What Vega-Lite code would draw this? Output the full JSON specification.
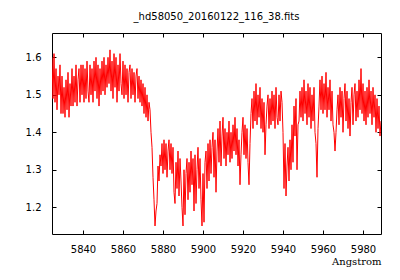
{
  "$schema": "https://vega.github.io/schema/vega-lite/v6.json",
  "autosize": {"type": "none"},
  "width": 329,
  "height": 201,
  "padding": {"left": 52, "top": 33, "right": 19, "bottom": 46},
  "background": "white",
  "title": {"text": "_hd58050_20160122_116_38.fits", "font": "DejaVu Sans", "fontSize": 10, "fontWeight": "normal", "color": "black", "anchor": "middle", "baseline": "alphabetic", "offset": 3},
  "config": {"view": {"stroke": "black", "strokeWidth": 1}},
  "data": {"values": [
{"wl":5824.5,"flux":1.60},{"wl":5825.0,"flux":1.49},{"wl":5825.5,"flux":1.61},{"wl":5826.0,"flux":1.48},{"wl":5826.5,"flux":1.57},{"wl":5827.0,"flux":1.46},{"wl":5827.5,"flux":1.55},{"wl":5828.0,"flux":1.50},{"wl":5828.5,"flux":1.58},{"wl":5829.0,"flux":1.45},
{"wl":5829.5,"flux":1.55},{"wl":5830.0,"flux":1.45},{"wl":5830.5,"flux":1.52},{"wl":5831.0,"flux":1.44},{"wl":5831.5,"flux":1.54},{"wl":5832.0,"flux":1.46},{"wl":5832.5,"flux":1.56},{"wl":5833.0,"flux":1.44},{"wl":5833.5,"flux":1.53},{"wl":5834.0,"flux":1.47},
{"wl":5834.5,"flux":1.57},{"wl":5835.0,"flux":1.47},{"wl":5835.5,"flux":1.55},{"wl":5836.0,"flux":1.48},{"wl":5836.5,"flux":1.58},{"wl":5837.0,"flux":1.47},{"wl":5837.5,"flux":1.54},{"wl":5838.0,"flux":1.57},{"wl":5838.5,"flux":1.48},{"wl":5839.0,"flux":1.58},
{"wl":5839.5,"flux":1.50},{"wl":5840.0,"flux":1.58},{"wl":5840.5,"flux":1.48},{"wl":5841.0,"flux":1.57},{"wl":5841.5,"flux":1.49},{"wl":5842.0,"flux":1.59},{"wl":5842.5,"flux":1.51},{"wl":5843.0,"flux":1.48},{"wl":5843.5,"flux":1.58},{"wl":5844.0,"flux":1.50},
{"wl":5844.5,"flux":1.57},{"wl":5845.0,"flux":1.48},{"wl":5845.5,"flux":1.59},{"wl":5846.0,"flux":1.51},{"wl":5846.5,"flux":1.60},{"wl":5847.0,"flux":1.49},{"wl":5847.5,"flux":1.58},{"wl":5848.0,"flux":1.47},{"wl":5848.5,"flux":1.57},{"wl":5849.0,"flux":1.50},
{"wl":5849.5,"flux":1.59},{"wl":5850.0,"flux":1.51},{"wl":5850.5,"flux":1.60},{"wl":5851.0,"flux":1.50},{"wl":5851.5,"flux":1.58},{"wl":5852.0,"flux":1.52},{"wl":5852.5,"flux":1.60},{"wl":5853.0,"flux":1.53},{"wl":5853.5,"flux":1.62},{"wl":5854.0,"flux":1.51},
{"wl":5854.5,"flux":1.59},{"wl":5855.0,"flux":1.49},{"wl":5855.5,"flux":1.61},{"wl":5856.0,"flux":1.52},{"wl":5856.5,"flux":1.60},{"wl":5857.0,"flux":1.48},{"wl":5857.5,"flux":1.58},{"wl":5858.0,"flux":1.51},{"wl":5858.5,"flux":1.61},{"wl":5859.0,"flux":1.53},
{"wl":5859.5,"flux":1.50},{"wl":5860.0,"flux":1.59},{"wl":5860.5,"flux":1.49},{"wl":5861.0,"flux":1.58},{"wl":5861.5,"flux":1.50},{"wl":5862.0,"flux":1.57},{"wl":5862.5,"flux":1.48},{"wl":5863.0,"flux":1.56},{"wl":5863.5,"flux":1.58},{"wl":5864.0,"flux":1.49},
{"wl":5864.5,"flux":1.57},{"wl":5865.0,"flux":1.50},{"wl":5865.5,"flux":1.56},{"wl":5866.0,"flux":1.48},{"wl":5866.5,"flux":1.55},{"wl":5867.0,"flux":1.57},{"wl":5867.5,"flux":1.49},{"wl":5868.0,"flux":1.55},{"wl":5868.5,"flux":1.48},{"wl":5869.0,"flux":1.54},
{"wl":5869.5,"flux":1.47},{"wl":5870.0,"flux":1.53},{"wl":5870.5,"flux":1.45},{"wl":5871.0,"flux":1.52},{"wl":5871.5,"flux":1.44},{"wl":5872.0,"flux":1.50},{"wl":5872.5,"flux":1.43},{"wl":5873.0,"flux":1.48},{"wl":5873.5,"flux":1.46},{"wl":5874.0,"flux":1.40},
{"wl":5874.5,"flux":1.36},{"wl":5875.0,"flux":1.28},{"wl":5875.5,"flux":1.22},{"wl":5876.0,"flux":1.15},{"wl":5876.5,"flux":1.19},{"wl":5877.0,"flux":1.21},{"wl":5877.5,"flux":1.31},{"wl":5878.0,"flux":1.27},{"wl":5878.5,"flux":1.34},{"wl":5879.0,"flux":1.31},
{"wl":5879.5,"flux":1.37},{"wl":5880.0,"flux":1.29},{"wl":5880.5,"flux":1.38},{"wl":5881.0,"flux":1.30},{"wl":5881.5,"flux":1.37},{"wl":5882.0,"flux":1.28},{"wl":5882.5,"flux":1.35},{"wl":5883.0,"flux":1.38},{"wl":5883.5,"flux":1.30},{"wl":5884.0,"flux":1.37},
{"wl":5884.5,"flux":1.29},{"wl":5885.0,"flux":1.36},{"wl":5885.5,"flux":1.24},{"wl":5886.0,"flux":1.21},{"wl":5886.5,"flux":1.32},{"wl":5887.0,"flux":1.25},{"wl":5887.5,"flux":1.35},{"wl":5888.0,"flux":1.23},{"wl":5888.5,"flux":1.33},{"wl":5889.0,"flux":1.27},
{"wl":5889.5,"flux":1.20},{"wl":5890.0,"flux":1.15},{"wl":5890.5,"flux":1.30},{"wl":5891.0,"flux":1.18},{"wl":5891.5,"flux":1.29},{"wl":5892.0,"flux":1.33},{"wl":5892.5,"flux":1.22},{"wl":5893.0,"flux":1.32},{"wl":5893.5,"flux":1.24},{"wl":5894.0,"flux":1.35},
{"wl":5894.5,"flux":1.26},{"wl":5895.0,"flux":1.33},{"wl":5895.5,"flux":1.19},{"wl":5896.0,"flux":1.34},{"wl":5896.5,"flux":1.21},{"wl":5897.0,"flux":1.30},{"wl":5897.5,"flux":1.36},{"wl":5898.0,"flux":1.25},{"wl":5898.5,"flux":1.33},{"wl":5899.0,"flux":1.22},
{"wl":5899.5,"flux":1.15},{"wl":5900.0,"flux":1.29},{"wl":5900.5,"flux":1.16},{"wl":5901.0,"flux":1.32},{"wl":5901.5,"flux":1.35},{"wl":5902.0,"flux":1.25},{"wl":5902.5,"flux":1.37},{"wl":5903.0,"flux":1.27},{"wl":5903.5,"flux":1.38},{"wl":5904.0,"flux":1.29},
{"wl":5904.5,"flux":1.36},{"wl":5905.0,"flux":1.40},{"wl":5905.5,"flux":1.28},{"wl":5906.0,"flux":1.38},{"wl":5906.5,"flux":1.24},{"wl":5907.0,"flux":1.35},{"wl":5907.5,"flux":1.41},{"wl":5908.0,"flux":1.32},{"wl":5908.5,"flux":1.43},{"wl":5909.0,"flux":1.31},
{"wl":5909.5,"flux":1.39},{"wl":5910.0,"flux":1.44},{"wl":5910.5,"flux":1.33},{"wl":5911.0,"flux":1.41},{"wl":5911.5,"flux":1.31},{"wl":5912.0,"flux":1.40},{"wl":5912.5,"flux":1.34},{"wl":5913.0,"flux":1.43},{"wl":5913.5,"flux":1.32},{"wl":5914.0,"flux":1.40},
{"wl":5914.5,"flux":1.33},{"wl":5915.0,"flux":1.42},{"wl":5915.5,"flux":1.35},{"wl":5916.0,"flux":1.44},{"wl":5916.5,"flux":1.34},{"wl":5917.0,"flux":1.41},{"wl":5917.5,"flux":1.31},{"wl":5918.0,"flux":1.38},{"wl":5918.5,"flux":1.26},{"wl":5919.0,"flux":1.34},
{"wl":5919.5,"flux":1.40},{"wl":5920.0,"flux":1.44},{"wl":5920.5,"flux":1.34},{"wl":5921.0,"flux":1.42},{"wl":5921.5,"flux":1.33},{"wl":5922.0,"flux":1.41},{"wl":5922.5,"flux":1.32},{"wl":5923.0,"flux":1.26},{"wl":5923.5,"flux":1.37},{"wl":5924.0,"flux":1.45},
{"wl":5924.5,"flux":1.49},{"wl":5925.0,"flux":1.41},{"wl":5925.5,"flux":1.51},{"wl":5926.0,"flux":1.43},{"wl":5926.5,"flux":1.53},{"wl":5927.0,"flux":1.42},{"wl":5927.5,"flux":1.50},{"wl":5928.0,"flux":1.44},{"wl":5928.5,"flux":1.52},{"wl":5929.0,"flux":1.41},
{"wl":5929.5,"flux":1.49},{"wl":5930.0,"flux":1.40},{"wl":5930.5,"flux":1.48},{"wl":5931.0,"flux":1.34},{"wl":5931.5,"flux":1.42},{"wl":5932.0,"flux":1.47},{"wl":5932.5,"flux":1.50},{"wl":5933.0,"flux":1.41},{"wl":5933.5,"flux":1.49},{"wl":5934.0,"flux":1.42},
{"wl":5934.5,"flux":1.51},{"wl":5935.0,"flux":1.43},{"wl":5935.5,"flux":1.50},{"wl":5936.0,"flux":1.41},{"wl":5936.5,"flux":1.52},{"wl":5937.0,"flux":1.44},{"wl":5937.5,"flux":1.42},{"wl":5938.0,"flux":1.50},{"wl":5938.5,"flux":1.43},{"wl":5939.0,"flux":1.51},
{"wl":5939.5,"flux":1.48},{"wl":5940.0,"flux":1.40},{"wl":5940.5,"flux":1.25},{"wl":5941.0,"flux":1.37},{"wl":5941.5,"flux":1.23},{"wl":5942.0,"flux":1.31},{"wl":5942.5,"flux":1.36},{"wl":5943.0,"flux":1.27},{"wl":5943.5,"flux":1.38},{"wl":5944.0,"flux":1.30},
{"wl":5944.5,"flux":1.42},{"wl":5945.0,"flux":1.32},{"wl":5945.5,"flux":1.47},{"wl":5946.0,"flux":1.39},{"wl":5946.5,"flux":1.49},{"wl":5947.0,"flux":1.30},{"wl":5947.5,"flux":1.42},{"wl":5948.0,"flux":1.43},{"wl":5948.5,"flux":1.51},{"wl":5949.0,"flux":1.44},
{"wl":5949.5,"flux":1.52},{"wl":5950.0,"flux":1.43},{"wl":5950.5,"flux":1.54},{"wl":5951.0,"flux":1.45},{"wl":5951.5,"flux":1.51},{"wl":5952.0,"flux":1.42},{"wl":5952.5,"flux":1.53},{"wl":5953.0,"flux":1.44},{"wl":5953.5,"flux":1.52},{"wl":5954.0,"flux":1.41},
{"wl":5954.5,"flux":1.50},{"wl":5955.0,"flux":1.43},{"wl":5955.5,"flux":1.52},{"wl":5956.0,"flux":1.40},{"wl":5956.5,"flux":1.37},{"wl":5957.0,"flux":1.28},{"wl":5957.5,"flux":1.41},{"wl":5958.0,"flux":1.47},{"wl":5958.5,"flux":1.54},{"wl":5959.0,"flux":1.46},
{"wl":5959.5,"flux":1.55},{"wl":5960.0,"flux":1.45},{"wl":5960.5,"flux":1.53},{"wl":5961.0,"flux":1.46},{"wl":5961.5,"flux":1.56},{"wl":5962.0,"flux":1.44},{"wl":5962.5,"flux":1.52},{"wl":5963.0,"flux":1.46},{"wl":5963.5,"flux":1.54},{"wl":5964.0,"flux":1.43},
{"wl":5964.5,"flux":1.51},{"wl":5965.0,"flux":1.42},{"wl":5965.5,"flux":1.40},{"wl":5966.0,"flux":1.35},{"wl":5966.5,"flux":1.40},{"wl":5967.0,"flux":1.46},{"wl":5967.5,"flux":1.50},{"wl":5968.0,"flux":1.42},{"wl":5968.5,"flux":1.52},{"wl":5969.0,"flux":1.44},
{"wl":5969.5,"flux":1.51},{"wl":5970.0,"flux":1.40},{"wl":5970.5,"flux":1.49},{"wl":5971.0,"flux":1.53},{"wl":5971.5,"flux":1.43},{"wl":5972.0,"flux":1.51},{"wl":5972.5,"flux":1.41},{"wl":5973.0,"flux":1.49},{"wl":5973.5,"flux":1.39},{"wl":5974.0,"flux":1.48},
{"wl":5974.5,"flux":1.52},{"wl":5975.0,"flux":1.42},{"wl":5975.5,"flux":1.50},{"wl":5976.0,"flux":1.53},{"wl":5976.5,"flux":1.43},{"wl":5977.0,"flux":1.51},{"wl":5977.5,"flux":1.44},{"wl":5978.0,"flux":1.54},{"wl":5978.5,"flux":1.46},{"wl":5979.0,"flux":1.57},
{"wl":5979.5,"flux":1.45},{"wl":5980.0,"flux":1.53},{"wl":5980.5,"flux":1.43},{"wl":5981.0,"flux":1.51},{"wl":5981.5,"flux":1.42},{"wl":5982.0,"flux":1.52},{"wl":5982.5,"flux":1.44},{"wl":5983.0,"flux":1.54},{"wl":5983.5,"flux":1.45},{"wl":5984.0,"flux":1.51},
{"wl":5984.5,"flux":1.42},{"wl":5985.0,"flux":1.52},{"wl":5985.5,"flux":1.44},{"wl":5986.0,"flux":1.50},{"wl":5986.5,"flux":1.40},{"wl":5987.0,"flux":1.49},{"wl":5987.5,"flux":1.41},{"wl":5988.0,"flux":1.47},{"wl":5988.5,"flux":1.39},{"wl":5989.0,"flux":1.43}
  ]},
  "layer": [
    {
      "mark": {"type": "line", "color": "#ff0000", "strokeWidth": 1, "clip": true},
      "encoding": {
        "x": {"field": "wl", "type": "quantitative", "scale": {"domain": [5824.5, 5989], "nice": false, "zero": false},
          "axis": {"orient": "bottom", "values": [5840, 5860, 5880, 5900, 5920, 5940, 5960, 5980], "format": "d", "grid": false, "domain": false, "tickSize": -4, "tickColor": "black", "labelPadding": 14, "labelFont": "DejaVu Sans", "labelFontSize": 10, "labelColor": "black", "labelFlush": false,
            "title": "Angstrom", "titleFont": "DejaVu Serif", "titleFontSize": 10, "titleFontWeight": "normal", "titleColor": "black", "titleAnchor": "end", "titlePadding": 2}},
        "y": {"field": "flux", "type": "quantitative", "scale": {"domain": [1.1286, 1.665], "nice": false, "zero": false},
          "axis": {"orient": "left", "values": [1.2, 1.3, 1.4, 1.5, 1.6], "format": ".1f", "grid": false, "domain": false, "tickSize": -4, "tickColor": "black", "labelPadding": 15, "labelFont": "DejaVu Sans", "labelFontSize": 10, "labelColor": "black", "labelFlush": false, "title": null}}
      }
    },
    {
      "mark": {"type": "line", "strokeOpacity": 0},
      "encoding": {
        "x": {"field": "wl", "type": "quantitative", "axis": {"orient": "top", "values": [5840, 5860, 5880, 5900, 5920, 5940, 5960, 5980], "labels": false, "grid": false, "domain": false, "tickSize": -4, "tickColor": "black", "title": null}},
        "y": {"field": "flux", "type": "quantitative", "axis": {"orient": "right", "values": [1.2, 1.3, 1.4, 1.5, 1.6], "labels": false, "grid": false, "domain": false, "tickSize": -4, "tickColor": "black", "title": null}}
      }
    }
  ],
  "resolve": {"axis": {"x": "independent", "y": "independent"}}
}
